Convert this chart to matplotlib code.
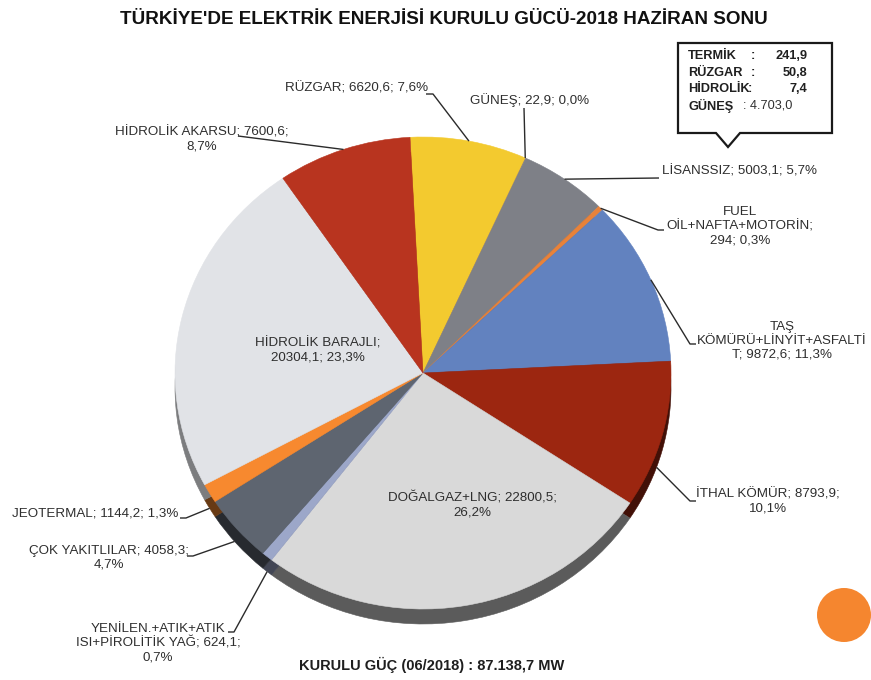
import numpy as np
import matplotlib
matplotlib.use("Agg")
import matplotlib.pyplot as plt
from matplotlib.patches import Polygon, Circle
from matplotlib import colors as mcolors

plt.rcParams["font.family"] = ["Liberation Sans", "DejaVu Sans"]

# Installed capacity by source, MW (end of June 2018), clockwise from the top
sources = [
    "RÜZGAR", "GÜNEŞ", "LİSANSSIZ", "FUEL\nOİL+NAFTA+MOTORİN",
    "TAŞ\nKÖMÜRÜ+LİNYİT+ASFALTİ\nT", "İTHAL KÖMÜR", "DOĞALGAZ+LNG",
    "YENİLEN.+ATIK+ATIK\nISI+PİROLİTİK YAĞ", "ÇOK YAKITLILAR", "JEOTERMAL",
    "HİDROLİK BARAJLI", "HİDROLİK AKARSU",
]
capacity_mw = [6620.6, 22.9, 5003.1, 294, 9872.6, 8793.9, 22800.5,
               624.1, 4058.3, 1144.2, 20304.1, 7600.6]
slice_colors = ["#F3CA2F", "#E9B43C", "#7E8087", "#E8823A", "#6282BF", "#9C2610",
                "#D9D9D9", "#9CA7C9", "#5E6570", "#F7892F", "#E1E3E7", "#B8341F"]

total_text = "KURULU GÜÇ (06/2018) : 87.138,7 MW"
title_text = "TÜRKİYE'DE ELEKTRİK ENERJİSİ KURULU GÜCÜ-2018 HAZİRAN SONU"

# Licence-exempt breakdown shown in the callout
callout_rows = ["TERMİK", "RÜZGAR", "HİDROLİK", "GÜNEŞ"]
callout_values = ["241,9", "50,8", "7,4", "4.703,0"]

W, H = 871, 680
CX, CY, RX, RY, DEPTH = 423, 373, 248, 236, 15
START = 93


def tr_num(v):
    s = f"{v:.0f}" if float(v).is_integer() else f"{v:.1f}"
    return s.replace(".", ",")


def darken(c, k):
    r, g, b = mcolors.to_rgb(c)
    return (r * k, g * k, b * k)


fig = plt.figure(figsize=(W / 100, H / 100), dpi=100)
fig.patch.set_facecolor("white")

# pie body: side (depth) layer underneath, top surface above
pax = fig.add_axes([(CX - RX) / W, (H - (CY + RY + DEPTH)) / H,
                    2 * RX / W, (2 * RY + DEPTH) / H])
d = DEPTH / RY
side_cols = [darken(c, 0.42) for c in slice_colors]
side_cols[10] = darken(slice_colors[10], 0.55)
side_w, _ = pax.pie(capacity_mw, colors=side_cols, startangle=START,
                    counterclock=False, center=(0, -d), radius=1)
top_w, _ = pax.pie(capacity_mw, colors=slice_colors, startangle=START,
                   counterclock=False, center=(0, 0), radius=1)
for w in side_w + top_w:
    w.set_edgecolor(w.get_facecolor())
    w.set_linewidth(0.4)
pax.set_aspect("auto")
pax.set_xlim(-1, 1)
pax.set_ylim(-1 - d, 1)
pax.axis("off")

# overlay in pixel coordinates for text and leader lines
ax = fig.add_axes([0, 0, 1, 1])
ax.set_xlim(0, W)
ax.set_ylim(H, 0)
ax.axis("off")

to_px = pax.transData + ax.transData.inverted()


def anchor(i, frac, low):
    w = top_w[i]
    th = np.radians(w.theta2 - frac * (w.theta2 - w.theta1))
    y = np.sin(th) - (d if low else 0)
    return to_px.transform((np.cos(th), y))


total = sum(capacity_mw)
sep = [("; ", "; "), ("; ", "; "), ("; ", "; "), (";\n", "; "),
       ("; ", "; "), ("; ", ";\n"), ("; ", ";\n"), ("; ", ";\n"),
       ("; ", ";\n"), ("; ", "; "), (";\n", "; "), ("; ", ";\n")]

# label placement: (x, y, ha, leader points from text side, anchor frac, low rim)
layout = [
    (428, 88, "right", [(426, 94), (433, 94)], 0.5, False),
    (470, 100, "left", [(524, 108)], 0.0, False),
    (662, 171, "left", [(659, 178)], 0.5, False),
    (740, 226, "center", [(664, 230), (658, 230)], 0.5, False),
    (782, 341, "center", [(696, 344), (690, 344)], 0.5, False),
    (768, 501, "center", [(696, 501), (690, 501)], 0.62, True),
    (472, 505, "center", None, 0.5, False),
    (158, 643, "center", [(228, 632), (234, 632)], 0.5, True),
    (109, 558, "center", [(187, 556), (193, 556)], 0.55, True),
    (178, 513, "right", [(180, 518), (186, 518)], 0.5, True),
    (318, 350, "center", None, 0.5, False),
    (202, 139, "center", [(238, 136)], 0.5, False),
]

txt_col = "#2e2e2e"
for i, (name, val) in enumerate(zip(sources, capacity_mw)):
    pct = f"{100 * val / total:.1f}".replace(".", ",")
    label = f"{name}{sep[i][0]}{tr_num(val)}{sep[i][1]}{pct}%"
    x, y, ha, pts, frac, low = layout[i]
    ax.text(x, y, label, ha=ha, va="center", fontsize=9.6, color=txt_col,
            linespacing=1.2, multialignment="center")
    if pts:
        a = anchor(i, frac, low)
        xs = [p[0] for p in pts] + [a[0]]
        ys = [p[1] for p in pts] + [a[1]]
        ax.plot(xs, ys, color="#2b2b2b", lw=1.0, solid_capstyle="butt")

ax.text(444, 19, title_text, ha="center", va="center", fontsize=13.6,
        fontweight="bold", color="#111111")
ax.text(432, 665, total_text, ha="center", va="center", fontsize=10.5,
        fontweight="bold", color="#1e1e1e")

# callout box with pointer
box = Polygon([(678, 43), (832, 43), (832, 133), (740, 133), (728, 147),
               (716, 133), (678, 133)], closed=True, facecolor="white",
              edgecolor="#1a1a1a", lw=1.6, joinstyle="miter")
ax.add_patch(box)
for k, (name, val) in enumerate(zip(callout_rows, callout_values)):
    y = 56 + k * 16.5
    ax.text(688, y, name, ha="left", va="center", fontsize=9.2,
            fontweight="bold", color="#202020")
    if k < 3:
        colon_x = 751 if k < 2 else 748
        ax.text(colon_x, y, ":", ha="left", va="center", fontsize=9.2,
                fontweight="bold", color="#202020")
        ax.text(807, y, val, ha="right", va="center", fontsize=9.2,
                fontweight="bold", color="#202020")
    else:
        ax.text(743, y, ": " + val, ha="left", va="center", fontsize=9.2,
                color="#303030")

# decorative dot
ax.add_patch(Circle((844, 615), 27, facecolor="#F5862F", edgecolor="none"))

fig.savefig("out.png", dpi=100, facecolor="white")
